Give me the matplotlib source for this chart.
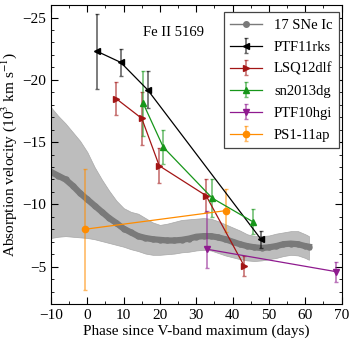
import matplotlib
matplotlib.use("Agg")
import matplotlib.pyplot as plt
from matplotlib.ticker import MultipleLocator
from matplotlib.lines import Line2D
import numpy as np

plt.rcParams['font.family'] = ['Liberation Serif', 'DejaVu Serif']
plt.rcParams['mathtext.fontset'] = 'stix'

# 17 SNe Ic template (mean and band)
tmpl_phase = [-10, -8, -6, -4, -2, 0, 2, 4, 6, 8, 10, 12, 14, 16, 18, 20, 22, 24, 26, 28,
              30, 32, 34, 36, 38, 40, 42, 44, 46, 48, 50, 52, 54, 56, 58, 60, 61]
tmpl_mean = [-12.6, -12.3, -12.0, -11.5, -10.9, -10.4, -9.9, -9.4, -8.9, -8.5, -8.05, -7.75,
             -7.45, -7.3, -7.2, -7.15, -7.1, -7.1, -7.15, -7.25, -7.4, -7.45, -7.45, -7.35,
             -7.2, -7.0, -6.8, -6.65, -6.55, -6.5, -6.55, -6.65, -6.8, -6.85, -6.8, -6.65, -6.6]
tmpl_upper = [-17.8, -17.1, -16.5, -15.8, -15.1, -14.2, -13.0, -12.0, -11.1, -10.3, -9.7, -9.4,
              -9.25, -8.9, -8.55, -8.35, -8.45, -8.6, -8.75, -8.8, -8.85, -8.9, -8.85, -8.65,
              -8.4, -8.15, -7.9, -7.6, -7.45, -7.45, -7.5, -7.65, -7.75, -7.85, -7.85, -7.6, -7.45]
tmpl_lower = [-7.3, -7.4, -7.45, -7.4, -7.35, -7.3, -7.2, -7.05, -6.9, -6.75, -6.6, -6.4,
              -6.25, -6.05, -5.95, -5.95, -6.0, -6.05, -6.15, -6.2, -6.3, -6.35, -6.3, -6.1,
              -5.9, -5.75, -5.6, -5.5, -5.45, -5.5, -5.6, -5.7, -5.85, -5.95, -5.9, -5.7, -5.55]

# individual SNe
ptf11rks_x = [2.6, 9.2, 16.6, 47.8]
ptf11rks_y = [-22.3, -21.4, -19.2, -7.2]
ptf11rks_e = [3.0, 1.1, 1.5, 0.7]

lsq12dlf_x = [7.9, 15.0, 19.8, 32.7, 43.2]
lsq12dlf_y = [-18.5, -16.9, -13.1, -10.7, -5.05]
lsq12dlf_e = [1.3, 2.1, 1.4, 1.35, 0.8]

sn2013dg_x = [15.4, 20.9, 34.4, 45.6]
sn2013dg_y = [-18.1, -14.6, -10.5, -8.6]
sn2013dg_e = [2.6, 1.35, 1.5, 1.0]

ptf10hgi_x = [32.9, 68.4]
ptf10hgi_y = [-6.4, -4.6]
ptf10hgi_e_low = [3.1, 0.8]
ptf10hgi_e_high = [1.5, 0.8]

ps111ap_x = [-0.7, 38.2]
ps111ap_y = [-8.0, -9.5]
ps111ap_e = [4.85, 1.7]

fig = plt.figure(figsize=(3.54, 3.41), dpi=100)
ax = fig.add_axes([0.144, 0.1085, 0.821, 0.8765])

gray = '#7a7a7a'
ax.fill_between(tmpl_phase, tmpl_upper, tmpl_lower, color='#bdbdbd', edgecolor='#a8a8a8',
                linewidth=0.5, zorder=1)
ax.plot(tmpl_phase, tmpl_mean, color=gray, lw=4.5, marker='o', ms=3.6, mec=gray, zorder=2)

handles = [Line2D([], [], color=gray, lw=1.0, marker='o', ms=4, label='17 SNe Ic')]

def eb(x, y, e, color, marker, label):
    c = ax.errorbar(x, y, yerr=e, color=color, marker=marker, ms=4.5, lw=0.9,
                    elinewidth=1.2, ecolor=matplotlib.colors.to_rgba(color, 0.6),
                    capsize=1.5, capthick=1.0, label=label, zorder=3)
    handles.append(c)

eb(ptf11rks_x, ptf11rks_y, ptf11rks_e, 'black', '<', 'PTF11rks')
eb(lsq12dlf_x, lsq12dlf_y, lsq12dlf_e, '#a31515', '>', 'LSQ12dlf')
eb(sn2013dg_x, sn2013dg_y, sn2013dg_e, '#17961a', '^', 'sn2013dg')
eb(ptf10hgi_x, ptf10hgi_y, [ptf10hgi_e_low, ptf10hgi_e_high], '#8f1a8f', 'v', 'PTF10hgi')
eb(ps111ap_x, ps111ap_y, ps111ap_e, 'darkorange', 'o', 'PS1-11ap')

ax.set_xlim(-10, 70)
ax.set_ylim(-2, -26)
ax.xaxis.set_major_locator(MultipleLocator(10))
ax.xaxis.set_minor_locator(MultipleLocator(5))
ax.yaxis.set_major_locator(MultipleLocator(5))
ax.yaxis.set_minor_locator(MultipleLocator(1))
ax.tick_params(which='both', direction='in', top=True, right=True, labelsize=11)
ax.tick_params(which='major', length=5, width=0.8)
ax.tick_params(which='minor', length=2.5, width=0.6)

ax.set_xlabel('Phase since V-band maximum (days)', fontsize=11, labelpad=2)
ax.set_ylabel('Absorption velocity (10$^3$ km s$^{-1}$)', fontsize=11, labelpad=2)

ax.text(0.316, 0.91, 'Fe II 5169', transform=ax.transAxes, fontsize=10.5, va='center', ha='left')

leg = ax.legend(handles=handles, loc='upper right', bbox_to_anchor=(0.991, 0.977),
                borderaxespad=0, fontsize=10.5, fancybox=False, framealpha=1,
                edgecolor='#444444', handlelength=2.2, labelspacing=0.6, borderpad=0.45)
leg.get_frame().set_linewidth(0.9)

fig.savefig('out.png', dpi=100)
